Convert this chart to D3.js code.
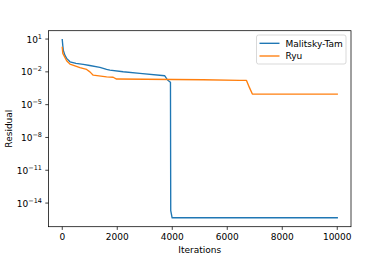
<!DOCTYPE html>
<html>
<head>
<meta charset="utf-8">
<script src="https://cdn.jsdelivr.net/npm/d3@7"></script>
<style>
  body { margin: 0; background: #fff; }
  text { font-family: "DejaVu Sans", sans-serif; fill: #000; }
</style>
</head>
<body>
<div id="chart"></div>
<script>
// Data
const mtIters = [0, 20, 40, 100, 160, 280, 500, 763, 1000, 1369, 1612, 1732, 2215, 2821, 3729, 3830, 3920, 3935, 3945, 3995, 10000];
const mtResid = [8.9, 2.5, 0.89, 0.32, 0.17, 0.083, 0.060, 0.048, 0.038, 0.026, 0.017, 0.0145, 0.0102, 0.0072, 0.0044, 0.0018, 0.0012, 1.1e-3, 2e-15, 4.5e-16, 4.5e-16];
const ryuIters = [0, 20, 160, 280, 643, 886, 1006, 1126, 1612, 1852, 1975, 5120, 6453, 6700, 6800, 6913, 10000];
const ryuResid = [1.74, 0.49, 0.105, 0.051, 0.024, 0.0166, 0.010, 0.005, 0.0035, 0.0032, 0.0022, 0.0019, 0.00166, 0.00166, 0.0004, 9.3e-5, 9.3e-5];
const seriesNames = ["Malitsky-Tam", "Ryu"];
const colors = ["#1f77b4", "#ff7f0e"];
const xTicks = [0, 2000, 4000, 6000, 8000, 10000];
const yTickExps = [1, -2, -5, -8, -11, -14];

const series = [
  {name: seriesNames[0], color: colors[0], values: mtIters.map((x, i) => ({x, y: mtResid[i]}))},
  {name: seriesNames[1], color: colors[1], values: ryuIters.map((x, i) => ({x, y: ryuResid[i]}))}
];

const W = 390, H = 260;
const margin = {left: 48.5, right: 39, top: 30.7, bottom: 33.3};
const iw = W - margin.left - margin.right, ih = H - margin.top - margin.bottom;

const svg = d3.select("#chart").append("svg").attr("width", W).attr("height", H);
const g = svg.append("g").attr("transform", `translate(${margin.left},${margin.top})`);

// 5% margins like matplotlib
const xr = [0, 10000];
const xpad = (xr[1] - xr[0]) * 0.05;
const x = d3.scaleLinear().domain([xr[0] - xpad, xr[1] + xpad]).range([0, iw]);

const all = mtResid.concat(ryuResid).map(v => Math.log10(v));
const lmin = d3.min(all), lmax = d3.max(all);
const lpad = (lmax - lmin) * 0.05;
const y = d3.scaleLog().domain([Math.pow(10, lmin - lpad), Math.pow(10, lmax + lpad)]).range([ih, 0]);

// lines
const line = d3.line().x(d => x(d.x)).y(d => y(d.y));
g.selectAll(".series").data(series).enter().append("path")
  .attr("d", d => line(d.values))
  .attr("fill", "none")
  .attr("stroke", d => d.color)
  .attr("stroke-width", 1.35)
  .attr("stroke-linejoin", "round")
  .attr("stroke-linecap", "square");

// frame
g.append("rect").attr("width", iw).attr("height", ih)
  .attr("fill", "none").attr("stroke", "#000").attr("stroke-width", 0.75);

// x axis
const xAxis = g.append("g").attr("transform", `translate(0,${ih})`);
xTicks.forEach(t => {
  xAxis.append("line").attr("x1", x(t)).attr("x2", x(t)).attr("y1", 0).attr("y2", 3.2)
    .attr("stroke", "#000").attr("stroke-width", 0.75);
  xAxis.append("text").attr("x", x(t)).attr("y", 13.5)
    .attr("text-anchor", "middle").style("font-size", "9px").text(t);
});

// y axis with 10^n labels
const yAxis = g.append("g");
yTickExps.forEach(e => {
  const yy = y(Math.pow(10, e));
  yAxis.append("line").attr("x1", -3.2).attr("x2", 0).attr("y1", yy).attr("y2", yy)
    .attr("stroke", "#000").attr("stroke-width", 0.75);
  const t = yAxis.append("text").attr("x", -6.5).attr("y", yy + 3.5)
    .attr("text-anchor", "end").style("font-size", "9px");
  t.append("tspan").text("10");
  t.append("tspan").attr("dy", -4).style("font-size", "6.5px")
    .text(e < 0 ? "\u2212" + (-e) : String(e));
});

// axis labels
svg.append("text").attr("x", margin.left + iw / 2).attr("y", 252.5)
  .attr("text-anchor", "middle").style("font-size", "9px").text("Iterations");
svg.append("text").attr("transform", `translate(12,${margin.top + ih / 2}) rotate(-90)`)
  .attr("text-anchor", "middle").style("font-size", "9px").text("Residual");

// legend
const lg = svg.append("g").attr("transform", "translate(256.5,35)");
lg.append("rect").attr("width", 89.5).attr("height", 29).attr("rx", 2)
  .attr("fill", "#fff").attr("fill-opacity", 0.8).attr("stroke", "#ccc").attr("stroke-width", 0.75);
series.forEach((s, i) => {
  const ly = 8.3 + i * 12.7;
  lg.append("line").attr("x1", 3).attr("x2", 23).attr("y1", ly).attr("y2", ly)
    .attr("stroke", s.color).attr("stroke-width", 1.35);
  lg.append("text").attr("x", 29).attr("y", ly + 3.2).style("font-size", "9px").text(s.name);
});
</script>
</body>
</html>
